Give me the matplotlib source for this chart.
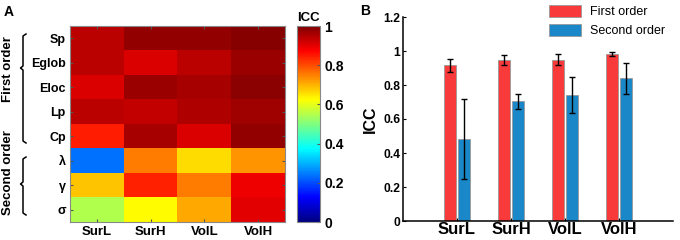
import numpy as np
import matplotlib.pyplot as plt
from matplotlib.lines import Line2D
from matplotlib.colors import LinearSegmentedColormap

plt.rcParams['font.family'] = ['Liberation Sans', 'DejaVu Sans']

# heatmap data (panel A)
metodos = ['SurL', 'SurH', 'VolL', 'VolH']
metricas = ['Sp', 'Eglob', 'Eloc', 'Lp', 'Cp', 'λ', 'γ', 'σ']
icc = np.array([
    [0.94, 0.98, 0.98, 0.99],
    [0.94, 0.91, 0.94, 0.97],
    [0.91, 0.97, 0.96, 0.985],
    [0.94, 0.93, 0.95, 0.965],
    [0.845, 0.96, 0.91, 0.98],
    [0.235, 0.75, 0.66, 0.73],
    [0.68, 0.84, 0.75, 0.89],
    [0.547, 0.625, 0.71, 0.90],
])

# bar data (panel B)
primeira = [0.915, 0.948, 0.950, 0.982]
primeira_err = [0.038, 0.028, 0.030, 0.010]
segunda = [0.480, 0.705, 0.740, 0.840]
segunda_err = [0.235, 0.045, 0.105, 0.090]

# jet do MATLAB
jet_ml = LinearSegmentedColormap('jet_ml', {
    'red': [(0, 0, 0), (0.375, 0, 0), (0.625, 1, 1), (0.875, 1, 1), (1, 0.5, 0.5)],
    'green': [(0, 0, 0), (0.125, 0, 0), (0.375, 1, 1), (0.625, 1, 1), (0.875, 0, 0), (1, 0, 0)],
    'blue': [(0, 0.5, 0.5), (0.125, 1, 1), (0.375, 1, 1), (0.625, 0, 0), (1, 0, 0)],
}, N=256)

fig = plt.figure(figsize=(6.8, 2.4), dpi=100)
W, H = 680.0, 240.0

def fx(px):
    return px / W

def fy(py):
    return 1 - py / H

# painel A
ax = fig.add_axes([fx(70), fy(222), fx(285) - fx(70), fy(26) - fy(222)])
im = ax.imshow(icc, cmap=jet_ml, vmin=0, vmax=1, aspect='auto', interpolation='nearest')
ax.set_xticks(range(len(metodos)))
ax.set_xticklabels(metodos, fontsize=9.5, fontweight='bold')
ax.set_yticks(range(len(metricas)))
ax.set_yticklabels(metricas, fontsize=9, fontweight='bold')
ax.tick_params(direction='in', length=2, top=True, right=True, color='#555555', pad=3)
for s in ax.spines.values():
    s.set_color('#888888')
    s.set_linewidth(0.8)

cax = fig.add_axes([fx(297), fy(222), fx(320) - fx(297), fy(26) - fy(222)])
cb = fig.colorbar(im, cax=cax, ticks=[0, 0.2, 0.4, 0.6, 0.8, 1])
cb.ax.set_yticklabels(['0', '0.2', '0.4', '0.6', '0.8', '1'], fontsize=10, fontweight='bold')
cb.ax.tick_params(direction='in', length=2, color='#555555', pad=3)
cb.outline.set_edgecolor('#888888')
cb.outline.set_linewidth(0.8)
fig.text(fx(308), fy(18), 'ICC', ha='center', va='center', fontsize=9.5, fontweight='bold')

fig.text(fx(4), fy(12), 'A', ha='left', va='center', fontsize=10, fontweight='bold')
fig.text(fx(360), fy(11), 'B', ha='left', va='center', fontsize=10, fontweight='bold')

def chave(y0, y1, ym, x=23):
    pts_x = [x + 3, x, x, x - 2.5, x, x, x + 3]
    pts_y = [y0, y0 + 2, ym - 2, ym, ym + 2, y1 - 2, y1]
    fig.add_artist(Line2D([fx(p) for p in pts_x], [fy(p) for p in pts_y],
                          color='black', lw=1.1, transform=fig.transFigure))

chave(34, 143, 68)
chave(157, 215, 184)
fig.text(fx(8), fy(69), 'First order', rotation=90, ha='center', va='center',
         fontsize=9.5, fontweight='bold')
fig.text(fx(8), fy(173), 'Second order', rotation=90, ha='center', va='center',
         fontsize=9.5, fontweight='bold')

# painel B
bx = fig.add_axes([fx(403), fy(221), fx(673) - fx(403), fy(17) - fy(221)])
pos = np.arange(1, len(metodos) + 1)
larg = 0.23
bx.bar(pos - 0.125, primeira, larg, yerr=primeira_err, color='#F93A3A', edgecolor='#999999',
       linewidth=0.6, capsize=2.5, error_kw=dict(elinewidth=1, capthick=1), label='First order')
bx.bar(pos + 0.125, segunda, larg, yerr=segunda_err, color='#1A87C9', edgecolor='#999999',
       linewidth=0.6, capsize=2.5, error_kw=dict(elinewidth=1, capthick=1), label='Second order')
bx.set_xlim(0, 5)
bx.set_ylim(0, 1.2)
bx.set_xticks(pos)
bx.set_xticklabels(metodos, fontsize=12, fontweight='bold')
bx.set_yticks([0, 0.2, 0.4, 0.6, 0.8, 1, 1.2])
bx.set_yticklabels(['0', '0.2', '0.4', '0.6', '0.8', '1', '1.2'], fontsize=8.7, fontweight='bold')
bx.tick_params(direction='in', length=2.5, pad=2)
bx.tick_params(axis='x', pad=1)
bx.spines['top'].set_visible(False)
bx.spines['right'].set_visible(False)
bx.spines['left'].set_linewidth(1.1)
bx.spines['bottom'].set_linewidth(1.1)
bx.set_ylabel('ICC', fontsize=11.5, fontweight='bold', labelpad=4)
leg = bx.legend(loc='upper right', bbox_to_anchor=(fx(670), fy(0)), bbox_transform=fig.transFigure,
                frameon=False, fontsize=9, handlelength=2.6, handleheight=1.1,
                handletextpad=0.7, labelspacing=0.45, borderaxespad=0)

fig.savefig('out.png', dpi=100)
